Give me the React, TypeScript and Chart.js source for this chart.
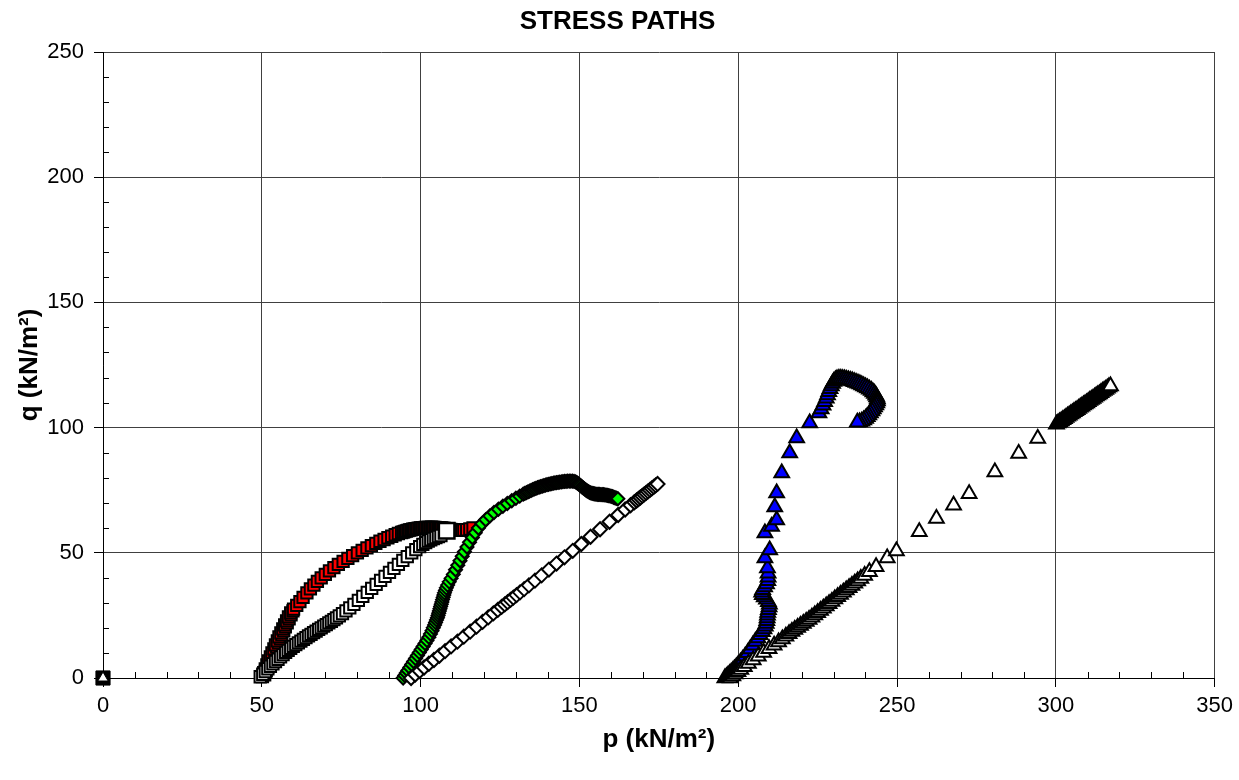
import React, { useEffect, useRef } from "react";
import { Chart, registerables } from "chart.js";

Chart.register(...registerables);

// ---------- text ----------
const chartTitle = "STRESS PATHS";
const xAxisTitle = "p (kN/m²)";
const yAxisTitle = "q (kN/m²)";

// ---------- ticks ----------
const xTickValues = [0, 50, 100, 150, 200, 250, 300, 350];
const yTickValues = [0, 50, 100, 150, 200, 250];
const minorStep = 10;

// ---------- data (p, q) ----------
const originSquare: number[][] = [[0, 0]];
const originTriangle: number[][] = [[0, 0]];

// test 1 – effective stress path (red squares)
const esp1: number[][] = [
  [50.2, 0.6], [50.9, 1.3], [50.6, 2.1], [51.4, 2.9], [51.1, 3.6], [51.9, 4.4], [51.6, 5.2],
  [52.5, 6.0], [52.1, 6.8], [53.0, 7.6], [52.7, 8.4], [53.6, 9.2], [53.2, 10.0], [54.1, 10.8],
  [53.8, 11.6], [54.7, 12.4], [54.3, 13.2], [55.2, 14.0], [54.9, 14.8], [55.8, 15.6], [55.4, 16.4],
  [56.3, 17.2], [56.0, 18.0], [56.9, 18.8], [56.6, 19.6], [57.4, 20.4], [57.2, 21.2], [58.0, 22.0],
  [57.8, 22.8], [58.6, 23.6], [58.4, 24.4], [59.2, 25.2], [59.1, 26.0], [59.8, 26.8], [60.0, 27.5],
  [61, 29], [62, 30.5], [63, 32.2], [64.2, 34], [65.3, 35.6], [66.4, 37.1], [67.5, 38.6],
  [68.7, 40], [70, 41.4], [71.3, 42.8], [72.7, 44.1], [74.1, 45.4], [75.6, 46.6], [77.1, 47.8],
  [78.6, 48.9], [80.1, 50], [81.6, 51], [83.1, 52], [84.5, 52.9], [85.9, 53.8], [87.2, 54.6],
  [88.5, 55.3], [89.7, 56], [90.9, 56.6], [92, 57.2], [93, 57.7], [94, 58.1],
  [94.5, 58.3], [95, 58.5], [95.5, 58.7], [96, 58.9], [96.5, 59.1], [97, 59.2], [97.5, 59.4],
  [98, 59.5], [98.5, 59.6], [99, 59.7], [99.5, 59.8], [100, 59.9], [100.5, 60], [101, 60],
  [101.5, 60.1], [102, 60.1], [102.5, 60.1], [103, 60.1], [103.5, 60.2], [104, 60.1],
  [104.5, 60.1], [105, 60], [105.5, 60], [106, 59.9], [106.5, 59.9], [107, 59.8], [107.5, 59.7],
  [108, 59.6], [108.5, 59.5], [109, 59.4], [109.5, 59.3], [110, 59.2], [110.5, 59.2], [111, 59.1],
  [111.5, 59], [112, 59], [112.5, 59], [113, 59], [113.6, 59.1], [114.5, 59.2], [115.5, 59.5],
  [116.5, 59.9],
];

// test 1 – total stress path (white squares)
const tsp1: number[][] = [
  [49.5, 0.5], [50.3, 1.5], [51.1, 2.6], [51.9, 3.7], [52.7, 4.7], [53.5, 5.7], [54.3, 6.6],
  [55.1, 7.5], [55.9, 8.4], [56.7, 9.3], [57.5, 10.2], [58.3, 11], [59.1, 11.8], [59.9, 12.6],
  [60.7, 13.3], [61.5, 14], [62.3, 14.7], [63.1, 15.4], [63.9, 16.1], [64.7, 16.8], [65.5, 17.4],
  [66.3, 18.1], [67.1, 18.7], [67.9, 19.4], [68.7, 20], [69.5, 20.7], [70.3, 21.3], [71.1, 22],
  [71.9, 22.6], [72.7, 23.3], [73.5, 24], [74.4, 24.8], [75.4, 25.7], [76.5, 26.8], [77.7, 28],
  [79, 29.4], [80.4, 31], [81.8, 32.6], [83.2, 34.2], [84.6, 35.8], [86, 37.4], [87.4, 39],
  [88.8, 40.6], [90.2, 42.2], [91.6, 43.8], [93, 45.4], [94.4, 47], [95.8, 48.5], [97.2, 50],
  [98.5, 51.3], [99.7, 52.5], [100.7, 53.4], [101.6, 54.1], [102.4, 54.7], [103.2, 55.2],
  [104, 55.7], [104.8, 56.1], [105.6, 56.5], [106.4, 56.9],
];

// test 1 – failure point (large white square)
const failure1: number[][] = [[108.2, 58.8]];

// test 2 – effective stress path (green diamonds)
const esp2: number[][] = [
  [94.5, 0], [95, 1], [95.5, 2], [96, 3], [96.6, 4.2], [97.2, 5.4], [97.8, 6.6], [98.4, 7.8],
  [99, 9], [99.6, 10.2], [100.2, 11.4], [100.8, 12.6], [101.4, 13.8], [102, 15], [102.6, 16.3],
  [103.1, 17.6], [103.6, 18.9], [104, 20.1], [104.4, 21.2], [104.7, 22.2], [105, 23.2],
  [105.3, 24.1], [105.5, 25], [105.7, 25.9], [105.9, 26.8], [106.1, 27.7], [106.3, 28.6],
  [106.5, 29.5], [106.7, 30.4], [106.9, 31.3], [107.1, 32.2], [107.3, 33.1], [107.5, 34],
  [107.8, 35], [108.1, 36], [108.5, 37.1], [109, 38.4], [109.6, 39.8], [110.3, 41.4], [111, 43.2],
  [111.7, 45], [112.4, 46.8], [113.1, 48.6], [113.8, 50.4], [114.6, 52.3], [115.4, 54.2],
  [116.3, 56.1], [117.2, 58], [118.2, 59.9], [119.3, 61.6], [120.5, 63.2], [121.8, 64.7],
  [123.1, 66.1], [124.5, 67.4], [125.9, 68.6], [127.3, 69.7], [128.7, 70.8], [130, 71.8],
  [131.2, 72.6], [132.3, 73.4], [132.8, 73.7], [133.3, 74], [133.8, 74.3], [134.3, 74.6],
  [134.8, 74.9], [135.3, 75.2], [135.8, 75.5], [136.3, 75.7], [136.8, 76], [137.3, 76.2],
  [137.8, 76.4], [138.3, 76.6], [138.8, 76.8], [139.3, 77], [139.8, 77.2], [140.3, 77.3],
  [140.8, 77.5], [141.3, 77.6], [141.8, 77.8], [142.3, 77.9], [142.8, 78], [143.3, 78.1],
  [143.8, 78.2], [144.3, 78.3], [144.8, 78.4], [145.3, 78.5], [145.8, 78.5], [146.3, 78.6],
  [146.8, 78.6], [147.3, 78.6], [147.8, 78.6], [148.3, 78.5], [148.8, 78.3], [149.2, 78],
  [149.6, 77.6], [150, 77.2], [150.4, 76.8], [150.8, 76.3], [151.2, 75.9], [151.6, 75.5],
  [152, 75.1], [152.4, 74.7], [152.8, 74.4], [153.2, 74.1], [153.6, 73.9], [154, 73.7],
  [154.4, 73.6], [154.8, 73.5], [155.2, 73.4], [155.6, 73.3], [156, 73.3], [156.4, 73.3],
  [156.8, 73.2], [157.2, 73.2], [157.6, 73.2], [158, 73.1], [158.4, 73], [158.8, 72.9],
  [159.2, 72.8], [159.6, 72.7], [160, 72.5], [160.4, 72.4], [160.8, 72.2], [161.2, 72],
  [161.6, 71.8], [162.1, 71.6],
];

// test 2 – total stress path (white diamonds)
const tsp2: number[][] = [
  [97, 0], [98.3, 1.4], [99.7, 2.8], [101.1, 4.2], [102.6, 5.7], [104.2, 7.2], [105.9, 8.9],
  [107.7, 10.7], [109.6, 12.6], [111.6, 14.5], [113.6, 16.5], [115.6, 18.5], [117.6, 20.5],
  [119.5, 22.4], [121.3, 24.2], [122.9, 25.8], [124.3, 27.2], [125.5, 28.4], [126.5, 29.4],
  [127.4, 30.3], [128.3, 31.2], [129.2, 32.1], [130.2, 33.1], [131.3, 34.2], [132.6, 35.5],
  [134.1, 37], [136, 38.9], [138.1, 41], [140.4, 43.3], [142.8, 45.7], [145.3, 48.2],
  [147.9, 50.8], [150.6, 53.5], [153.5, 56.4], [156.5, 59.4], [159.5, 62.4], [162.2, 65.1],
  [164.4, 67.3], [166.1, 69], [167.3, 70.2], [168, 70.9], [168.6, 71.5], [169.2, 72.1],
  [169.8, 72.7], [170.4, 73.3], [171, 73.9], [171.6, 74.5], [172.2, 75.1], [172.8, 75.7],
  [173.4, 76.3], [174, 76.9], [174.6, 77.5],
];

// test 3 – effective stress path (blue triangles)
const esp3: number[][] = [
  [195.8, 0], [196.3, 0.5], [196.8, 1.1], [197.3, 1.7], [197.8, 2.3], [198.3, 2.9], [198.8, 3.6],
  [199.4, 4.4], [200, 5.3], [200.7, 6.3], [201.4, 7.4], [202.2, 8.7], [203, 10.1], [203.8, 11.6],
  [204.6, 13.1], [205.4, 14.6], [206.2, 16], [206.9, 17.3], [207.6, 18.5], [208.1, 19.6],
  [208.5, 20.7], [208.8, 21.8], [209, 22.9], [209.1, 24], [209.2, 25.1], [209.3, 26.2],
  [209.5, 27.3], [209.7, 28.4], [209.8, 29.5], [209.5, 30.5], [208.9, 31.4], [208.2, 32.3],
  [207.6, 33.2], [207.4, 34.2], [207.7, 35.2], [208.3, 36.3], [208.9, 37.5], [209.3, 38.8],
  [209.4, 40.2], [209.4, 41.8], [209.2, 43.9], [208.4, 47.9], [209.9, 51.1], [208.4, 57.9],
  [210.5, 60.5], [212.1, 63.1], [211.5, 68.3], [212.1, 73.9], [213.7, 81.9], [216.2, 89.9],
  [218.4, 95.8], [222.5, 101.8], [225.4, 105.8], [226.1, 107.4], [226.7, 108.9], [227.2, 110.3],
  [227.7, 111.7], [228.1, 113], [228.5, 114.3], [228.9, 115.5], [229.3, 116.6], [229.7, 117.6],
  [230.1, 118.4], [230.6, 119], [231.1, 119.4], [231.7, 119.6], [232.3, 119.6], [232.9, 119.5],
  [233.5, 119.4], [234.1, 119.2], [234.7, 119], [235.3, 118.8], [235.9, 118.6], [236.5, 118.3],
  [237.1, 118], [237.7, 117.7], [238.3, 117.4], [238.9, 117], [239.5, 116.6], [240.1, 116.2],
  [240.7, 115.8], [241.3, 115.3], [241.9, 114.8], [242.4, 114.2], [242.9, 113.6], [243.3, 112.9],
  [243.6, 112.2], [243.8, 111.4], [243.8, 110.6], [243.6, 109.8], [243.3, 109], [242.9, 108.2],
  [242.5, 107.4], [242.1, 106.6], [241.6, 105.8], [241.1, 105], [240.6, 104.3], [240.1, 103.6],
  [239.5, 103], [238.9, 102.5], [238.2, 102.2], [237.5, 102.1],
];

// test 3 – total stress path (white triangles)
const tsp3: number[][] = [
  [197.5, 0], [198.3, 0.8], [199.1, 1.6], [199.9, 2.5], [200.8, 3.4], [201.9, 4.5], [203.2, 5.8],
  [204.7, 7.2], [206.3, 8.7], [208, 10.2], [209.7, 11.7], [211.3, 13.1], [212.7, 14.4],
  [213.9, 15.6], [215, 16.7], [216, 17.7], [216.9, 18.6], [217.8, 19.4], [218.7, 20.2],
  [219.6, 21], [220.5, 21.8], [221.4, 22.6], [222.3, 23.4], [223.2, 24.3], [224.1, 25.2],
  [225, 26.1], [225.9, 27], [226.8, 27.9], [227.7, 28.8], [228.6, 29.7], [229.5, 30.6],
  [230.4, 31.5], [231.3, 32.4], [232.2, 33.3], [233.1, 34.2], [234, 35.1], [234.9, 36],
  [235.8, 36.9], [236.7, 37.8], [237.6, 38.7], [238.6, 39.7], [239.8, 40.9], [241.3, 42.4],
  [243.4, 44.4], [246.9, 47.9], [249.8, 50.7], [257, 58.4], [262.4, 63.7], [267.8, 69],
  [272.7, 73.6], [280.8, 82.3], [288.3, 89.7], [294.3, 95.6], [300.2, 101.3], [300.7, 101.8],
  [301.2, 102.2], [301.7, 102.6], [302.2, 103.1], [302.7, 103.5], [303.2, 104], [303.7, 104.5],
  [304.2, 104.9], [304.7, 105.4], [305.2, 105.8], [305.7, 106.3], [306.2, 106.7], [306.7, 107.1],
  [307.2, 107.6], [307.7, 108.1], [308.2, 108.5], [308.7, 109], [309.2, 109.4], [309.7, 109.8],
  [310.2, 110.3], [310.7, 110.8], [311.2, 111.2], [311.7, 111.6], [312.2, 112.1], [312.7, 112.6],
  [313.2, 113], [313.7, 113.4], [314.2, 113.9], [314.7, 114.4], [315.2, 114.8], [315.7, 115.2],
  [316.2, 115.7], [316.7, 116.2], [317.2, 116.6],
];

const FONT = "'Liberation Sans', Arial, sans-serif";

const toXY = (arr: number[][]) => arr.map(([x, y]) => ({ x, y }));

const minorTicksPlugin = {
  id: "minorTicks",
  beforeDatasetsDraw(chart: any) {
    const { ctx, scales } = chart;
    const xs = scales.x;
    const ys = scales.y;
    ctx.save();
    ctx.strokeStyle = "#000";
    ctx.lineWidth = 1;
    ctx.beginPath();
    for (let v = xs.min; v <= xs.max; v += minorStep) {
      if (xTickValues.includes(v)) continue;
      const px = Math.round(xs.getPixelForValue(v)) + 0.5;
      ctx.moveTo(px, ys.bottom);
      ctx.lineTo(px, ys.bottom - 6);
    }
    for (let v = ys.min; v <= ys.max; v += minorStep) {
      if (yTickValues.includes(v)) continue;
      const py = Math.round(ys.getPixelForValue(v)) + 0.5;
      ctx.moveTo(xs.left, py);
      ctx.lineTo(xs.left + 6, py);
    }
    ctx.stroke();
    ctx.restore();
  },
};

export default function App() {
  const canvasRef = useRef<HTMLCanvasElement | null>(null);

  useEffect(() => {
    if (!canvasRef.current) return;
    const base = { showLine: false, clip: false as any, borderColor: "#000", pointBorderColor: "#000", yAxisID: "y" };
    const chart = new Chart(canvasRef.current, {
      type: "scatter",
      data: {
        datasets: [
          {
            ...base, label: "origin", data: toXY(originSquare), order: 2,
            pointStyle: "rect", pointRadius: 10, pointBackgroundColor: "#000", pointBorderWidth: 1,
          },
          {
            ...base, label: "origin tri", data: toXY(originTriangle), order: 1,
            pointStyle: "triangle", pointRadius: 6, pointBackgroundColor: "#fff", pointBorderWidth: 1,
          },
          {
            ...base, label: "TSP 3", data: toXY(tsp3), order: 3,
            pointStyle: "triangle", pointRadius: 8.5, pointBackgroundColor: "#fff", pointBorderWidth: 2,
          },
          {
            ...base, label: "ESP 3", data: toXY(esp3), order: 4,
            pointStyle: "triangle", pointRadius: 8.5, pointBackgroundColor: "#0000ff", pointBorderWidth: 2,
          },
          {
            ...base, label: "TSP 2", data: toXY(tsp2), order: 5,
            pointStyle: "rectRot", pointRadius: 7, pointBackgroundColor: "#fff", pointBorderWidth: 2,
          },
          {
            ...base, label: "ESP 2", data: toXY(esp2), order: 6,
            pointStyle: "rectRot", pointRadius: 6.5, pointBackgroundColor: "#00ff00", pointBorderWidth: 2,
          },
          {
            ...base, label: "Failure 1", data: toXY(failure1), order: 7,
            pointStyle: "rect", pointRadius: 11, pointBackgroundColor: "#fff", pointBorderWidth: 2.5,
          },
          {
            ...base, label: "TSP 1", data: toXY(tsp1), order: 8,
            pointStyle: "rect", pointRadius: 8, pointBackgroundColor: "#fff", pointBorderWidth: 2,
          },
          {
            ...base, label: "ESP 1", data: toXY(esp1), order: 9,
            pointStyle: "rect", pointRadius: 8, pointBackgroundColor: "#ff0000", pointBorderWidth: 2,
          },
        ],
      },
      options: {
        responsive: false,
        animation: false,
        events: [],
        layout: { padding: { left: 0, right: 4, top: 0, bottom: 0 } },
        plugins: {
          legend: { display: false },
          tooltip: { enabled: false },
          title: {
            display: true,
            text: chartTitle,
            color: "#000",
            font: { family: FONT, size: 26, weight: "bold", lineHeight: 1.2 },
            padding: { top: 6.4, bottom: 14.4 },
          },
        },
        scales: {
          x: {
            type: "linear",
            min: 0,
            max: 350,
            afterBuildTicks: (s: any) => { s.ticks = xTickValues.map((v) => ({ value: v })); },
            afterFit: (s: any) => { s.height = 102; },
            ticks: {
              color: "#000",
              font: { family: FONT, size: 22 },
              padding: 6,
              maxRotation: 0,
              autoSkip: false,
            },
            grid: { color: "#404040", lineWidth: 1, tickLength: 9, tickColor: "#000" },
            border: { color: "#000", width: 1 },
            title: {
              display: true,
              text: xAxisTitle,
              color: "#000",
              font: { family: FONT, size: 26, weight: "bold", lineHeight: 1.2 },
              padding: { top: 0, bottom: 24.4 },
            },
          },
          y: {
            type: "linear",
            position: "left",
            min: 0,
            max: 250,
            afterBuildTicks: (s: any) => { s.ticks = yTickValues.map((v) => ({ value: v })); },
            afterFit: (s: any) => { s.width = 103; },
            ticks: {
              color: "#000",
              font: { family: FONT, size: 22 },
              padding: 10,
              autoSkip: false,
            },
            grid: { color: "#404040", lineWidth: 1, tickLength: 9, tickColor: "#000" },
            border: { color: "#000", width: 1 },
            title: {
              display: true,
              text: yAxisTitle,
              color: "#000",
              font: { family: FONT, size: 26, weight: "bold", lineHeight: 1.2 },
              padding: { top: 14.4, bottom: 0 },
            },
          },
          yRightSpace: {
            type: "linear",
            position: "right",
            display: true,
            grid: { display: false, drawTicks: false, drawOnChartArea: false },
            border: { display: false },
            ticks: { display: false },
            afterFit: (s: any) => { s.width = 20; },
          },
        },
      },
      plugins: [minorTicksPlugin],
    });
    return () => chart.destroy();
  }, []);

  return (
    <div style={{ position: "absolute", left: 0, top: 0, width: 1239, height: 780, background: "#fff" }}>
      <canvas ref={canvasRef} width={1239} height={780} style={{ display: "block" }} />
    </div>
  );
}
